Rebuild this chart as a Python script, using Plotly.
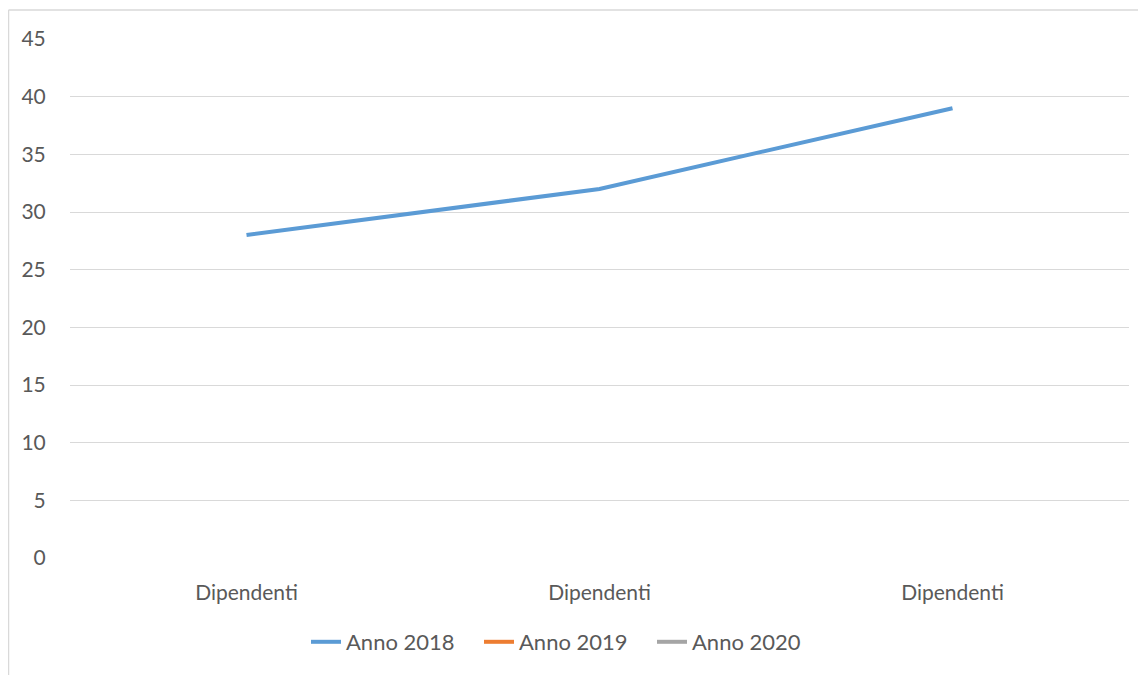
import plotly.graph_objects as go

categories = ["Dipendenti", "Dipendenti", "Dipendenti"]
anno_2018 = [28, 32, 39]
anno_2019 = [None, None, None]
anno_2020 = [None, None, None]
y_ticks = [0, 5, 10, 15, 20, 25, 30, 35, 40, 45]

x_pos = list(range(len(categories)))

fig = go.Figure()
series = [("Anno 2018", anno_2018, "#5B9BD5"),
          ("Anno 2019", anno_2019, "#ED7D31"),
          ("Anno 2020", anno_2020, "#A5A5A5")]
for name, vals, col in series:
    fig.add_trace(go.Scatter(x=x_pos, y=vals, name=name, mode="lines",
                             line=dict(color=col, width=4), connectgaps=False))

# page is offset by 8px body margin
OFF = 8
W, H = 1146, 675
ml, mr, mt, mb = 70 - OFF, W - (1129 - OFF), 39 - OFF, H - (558 - OFF)
pw, ph = W - ml - mr, H - mt - mb

def px_x(p):
    return (p - OFF - ml) / pw

def px_y(p):
    return (H - mb - (p - OFF)) / ph

fig.update_layout(
    width=W, height=H,
    margin=dict(l=ml, r=mr, t=mt, b=mb),
    paper_bgcolor="white", plot_bgcolor="white",
    font=dict(family="Lato, Carlito, sans-serif", size=21, color="#595959"),
    showlegend=True,
    legend=dict(orientation="h", x=px_x(306), xanchor="left", y=px_y(642), yanchor="middle",
                font=dict(size=22, color="#595959"), tracegroupgap=0,
                entrywidth=128, entrywidthmode="pixels"),
    xaxis=dict(range=[-0.5, 2.5], tickvals=x_pos, ticktext=categories,
               showgrid=False, zeroline=False, showline=False,
               ticks="outside", ticklen=16, tickcolor="rgba(0,0,0,0)",
               tickfont=dict(size=21), fixedrange=True),
    yaxis=dict(range=[0, 45], tickvals=y_ticks, showgrid=True, gridcolor="#D9D9D9",
               gridwidth=1, zeroline=False, showline=False,
               ticks="outside", ticklen=19, tickcolor="rgba(0,0,0,0)",
               tickfont=dict(size=21)),
    shapes=[
        dict(type="line", xref="paper", yref="paper", x0=px_x(8.5), x1=px_x(8.5),
             y0=px_y(10), y1=px_y(690), line=dict(color="#D9D9D9", width=1.5)),
        dict(type="line", xref="paper", yref="paper", x0=px_x(8.5), x1=px_x(1160),
             y0=px_y(10), y1=px_y(10), line=dict(color="#D9D9D9", width=1.5)),
    ],
)

fig.write_html("out.html")
